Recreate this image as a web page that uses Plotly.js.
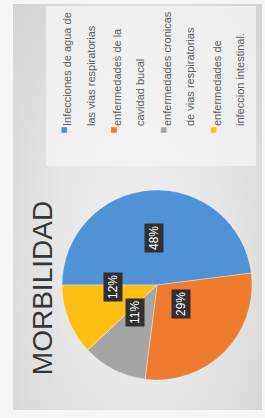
<!DOCTYPE html>
<html><head><meta charset="utf-8">
<script src="https://cdn.plot.ly/plotly-3.0.1.min.js"></script>
<style>
html,body{margin:0;padding:0;width:265px;height:418px;overflow:hidden;background:#f6f6f6;}
#wrap{position:absolute;left:0;top:0;width:418px;height:265px;transform-origin:0 0;transform:translate(0px,418px) rotate(-90deg);}
#sheet{position:absolute;left:8px;top:13px;width:406px;height:249px;background:radial-gradient(ellipse at 40% 50%, #efefef 0%, #e7e7e7 45%, #d3d3d3 100%);}
#chart{position:absolute;left:0;top:0;width:418px;height:265px;}
</style></head>
<body><div id="wrap"><div id="sheet"></div><div id="chart"></div></div>
<script>
// Data
const categories = [
  'Infecciones de agua de<br>las vias respiratorias',
  'enfermedades de la<br>cavidad bucal',
  'enfermedades cronicas<br>de vias respiratorias',
  'enfermedades de<br>infeccion intestinal.'
];
const values = [48, 29, 11, 12];
const sliceColors = ['#4f92d6', '#ee7b2e', '#a5a5a5', '#fdbf12'];
const chartTitle = 'MORBILIDAD';

const W = 418, H = 265;
const domX = [0.0909, 0.5455];
const domY = [0.049, 0.766];

const legendLabels = categories.map(c =>
  c.split('<br>').map(l => '<span style="font-size:11px">' + l + '</span>').join('<br>'));

const total = values.reduce((a, b) => a + b, 0);
const cxPx = (domX[0] + domX[1]) / 2 * W;
const cyPx = (domY[0] + domY[1]) / 2 * H;
const Rpx = Math.min((domX[1] - domX[0]) * W, (domY[1] - domY[0]) * H) / 2;
let cum = 0;
const annotations = values.map(v => {
  const mid = (cum + v / 2) / total * 2 * Math.PI;
  cum += v;
  const r = 0.5 * Rpx;
  return {
    x: (cxPx + r * Math.sin(mid)) / W,
    y: (cyPx + r * Math.cos(mid)) / H,
    xref: 'paper', yref: 'paper',
    text: Math.round(v / total * 100) + '%',
    showarrow: false,
    bgcolor: '#303030',
    borderpad: 2,
    font: {family: 'Liberation Sans, Arial, sans-serif', size: 12, color: '#ffffff'}
  };
});

const trace = {
  type: 'pie',
  labels: legendLabels,
  values: values,
  sort: false,
  direction: 'clockwise',
  rotation: 0,
  marker: {colors: sliceColors, line: {color: 'rgba(255,255,255,0.6)', width: 0.6}},
  textinfo: 'none',
  hoverinfo: 'label+percent',
  domain: {x: domX, y: domY}
};

const layout = {
  width: W, height: H,
  margin: {l: 0, r: 0, t: 0, b: 0},
  paper_bgcolor: 'rgba(0,0,0,0)',
  plot_bgcolor: 'rgba(0,0,0,0)',
  title: {
    text: chartTitle,
    x: 130 / W, xanchor: 'center', xref: 'paper',
    y: 1 - 42 / H, yanchor: 'middle', yref: 'paper',
    font: {family: 'Liberation Sans, Arial, sans-serif', size: 28, color: '#363636'}
  },
  showlegend: true,
  legend: {
    x: 252 / W, xanchor: 'left',
    y: 1 - 46 / H, yanchor: 'top',
    valign: 'top',
    bgcolor: 'rgba(244,244,244,0.75)',
    font: {family: 'Liberation Sans, Arial, sans-serif', size: 18, color: '#606060'},
    traceorder: 'normal'
  },
  annotations: annotations
};

Plotly.newPlot('chart', [trace], layout, {staticPlot: true, displayModeBar: false}).then(() => {
  document.querySelectorAll('path.legendpie').forEach(p => p.setAttribute('d', 'M19,3V-3H13V3Z'));
});
</script>
</body></html>
